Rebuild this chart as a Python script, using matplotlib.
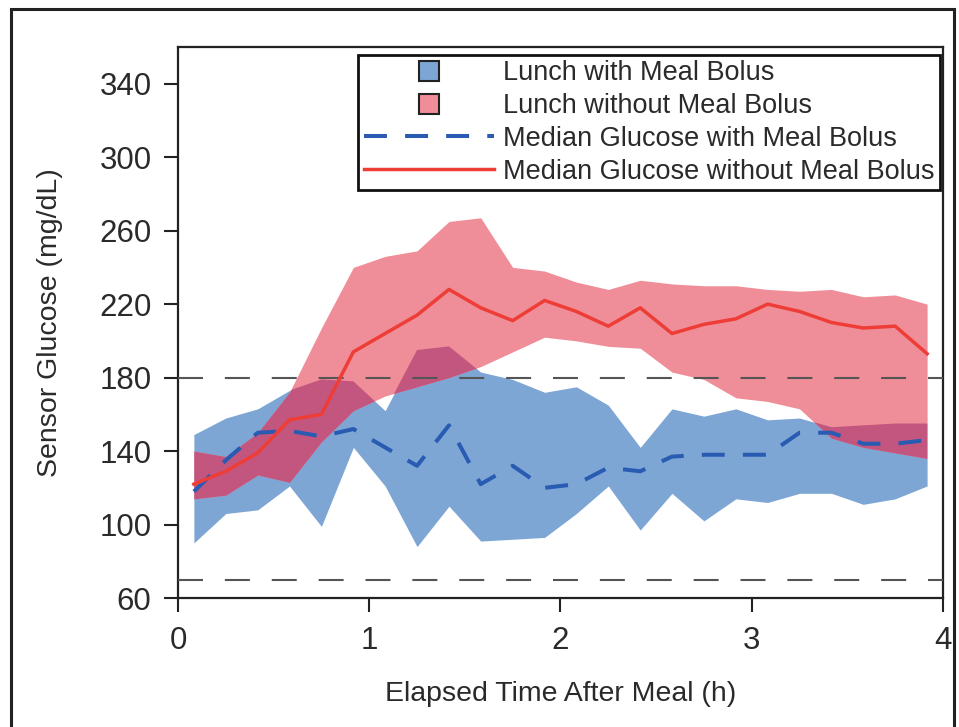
import numpy as np
import matplotlib
matplotlib.use('Agg')
import matplotlib.pyplot as plt
from matplotlib.lines import Line2D
from matplotlib.patches import Rectangle

plt.rcParams['font.family'] = ['Liberation Sans', 'DejaVu Sans']

# hours after the meal (10-minute bins)
horas = [0.083, 0.25, 0.417, 0.583, 0.75, 0.917, 1.083, 1.25, 1.417, 1.583, 1.75, 1.917,
         2.083, 2.25, 2.417, 2.583, 2.75, 2.917, 3.083, 3.25, 3.417, 3.583, 3.75, 3.917]

# with meal bolus
bolus_med = [118, 135, 150, 151, 148, 152, 142, 132, 154, 122, 132, 120,
             122, 131, 129, 137, 138, 138, 138, 150, 150, 144, 144, 146]
bolus_hi = [149, 158, 163, 173, 179, 178, 162, 195, 197, 183, 179, 172,
            175, 165, 142, 163, 159, 163, 157, 158, 153, 154, 155, 155]
bolus_lo = [90, 106, 108, 121, 99, 142, 121, 88, 110, 91, 92, 93,
            106, 121, 97, 117, 102, 114, 112, 117, 117, 111, 114, 121]

# without meal bolus
sem_med = [122, 129, 139, 157, 160, 194, 204, 214, 228, 218, 211, 222,
           216, 208, 218, 204, 209, 212, 220, 216, 210, 207, 208, 193]
sem_hi = [140, 137, 150, 172, 207, 240, 246, 249, 265, 267, 240, 238,
          232, 228, 233, 231, 230, 230, 228, 227, 228, 224, 225, 220]
sem_lo = [114, 116, 127, 123, 145, 162, 170, 175, 180, 186, 194, 202,
          200, 197, 196, 183, 179, 169, 167, 163, 147, 142, 139, 136]

limites = [70, 180]
yticks = [60, 100, 140, 180, 220, 260, 300, 340]
xticks = [0, 1, 2, 3, 4]

azul_fill = '#7da6d5'
rosa_fill = '#ef8e98'
roxo = '#c2567e'
azul = '#2a5bb3'
vermelho = '#ee3d36'
texto = '#2a2a2a'

fig = plt.figure(figsize=(9.59, 7.27), dpi=100)
ax = fig.add_axes([0.1856, 0.1774, 0.7977, 0.758])

# moldura externa
fig.patches.append(Rectangle((0.0115, -0.05), 0.983, 1.038, transform=fig.transFigure,
                             fill=False, edgecolor='#222222', linewidth=2.2))

b = ax.fill_between(horas, bolus_lo, bolus_hi, color=azul_fill, linewidth=0, zorder=1)
ax.fill_between(horas, sem_lo, sem_hi, color=rosa_fill, linewidth=0, zorder=2)
# overlap region: red band clipped to the blue band
ov = ax.fill_between(horas, sem_lo, sem_hi, color=roxo, linewidth=0, zorder=3)
ov.set_clip_path(b.get_paths()[0], ax.transData)

for v in limites:
    ax.axhline(v, color='#555555', linewidth=1.5, dashes=(12, 10.5), zorder=4)

ax.plot(horas, bolus_med, color=azul, linewidth=2.9, dashes=(5.7, 4.5), zorder=5)
ax.plot(horas, sem_med, color=vermelho, linewidth=2.5, zorder=6)

ax.set_xlim(0, 4)
ax.set_ylim(60, 360)
ax.set_xticks(xticks)
ax.set_yticks(yticks)
ax.tick_params(direction='out', length=10, width=1.5, labelsize=22.5, colors='#222222',
               labelcolor=texto)
ax.tick_params(axis='y', pad=9)
ax.tick_params(axis='x', pad=10)
for s in ax.spines.values():
    s.set_linewidth(1.6)
    s.set_color('#222222')

ax.set_xlabel('Elapsed Time After Meal (h)', fontsize=20.5, color=texto, labelpad=18)
ax.set_ylabel('Sensor Glucose (mg/dL)', fontsize=20.5, color=texto, labelpad=26)

handles = [
    Line2D([], [], marker='s', markersize=15, markerfacecolor=azul_fill,
           markeredgecolor='#222222', markeredgewidth=1.5, linestyle='None'),
    Line2D([], [], marker='s', markersize=15, markerfacecolor=rosa_fill,
           markeredgecolor='#222222', markeredgewidth=1.5, linestyle='None'),
    Line2D([], [], color=azul, linewidth=2.9, dashes=(5.7, 4.5)),
    Line2D([], [], color=vermelho, linewidth=2.5),
]
nomes = ['Lunch with Meal Bolus', 'Lunch without Meal Bolus',
         'Median Glucose with Meal Bolus', 'Median Glucose without Meal Bolus']
leg = ax.legend(handles, nomes, loc='upper right', bbox_to_anchor=(0.9961, 0.9855),
                borderaxespad=0, fontsize=19.5, handlelength=4.8, handletextpad=0.35,
                labelspacing=0.25, borderpad=0.2, fancybox=False, framealpha=1,
                edgecolor='#111111')
leg.get_frame().set_linewidth(2)
for t in leg.get_texts():
    t.set_color(texto)

fig.savefig('out.png', dpi=100)
